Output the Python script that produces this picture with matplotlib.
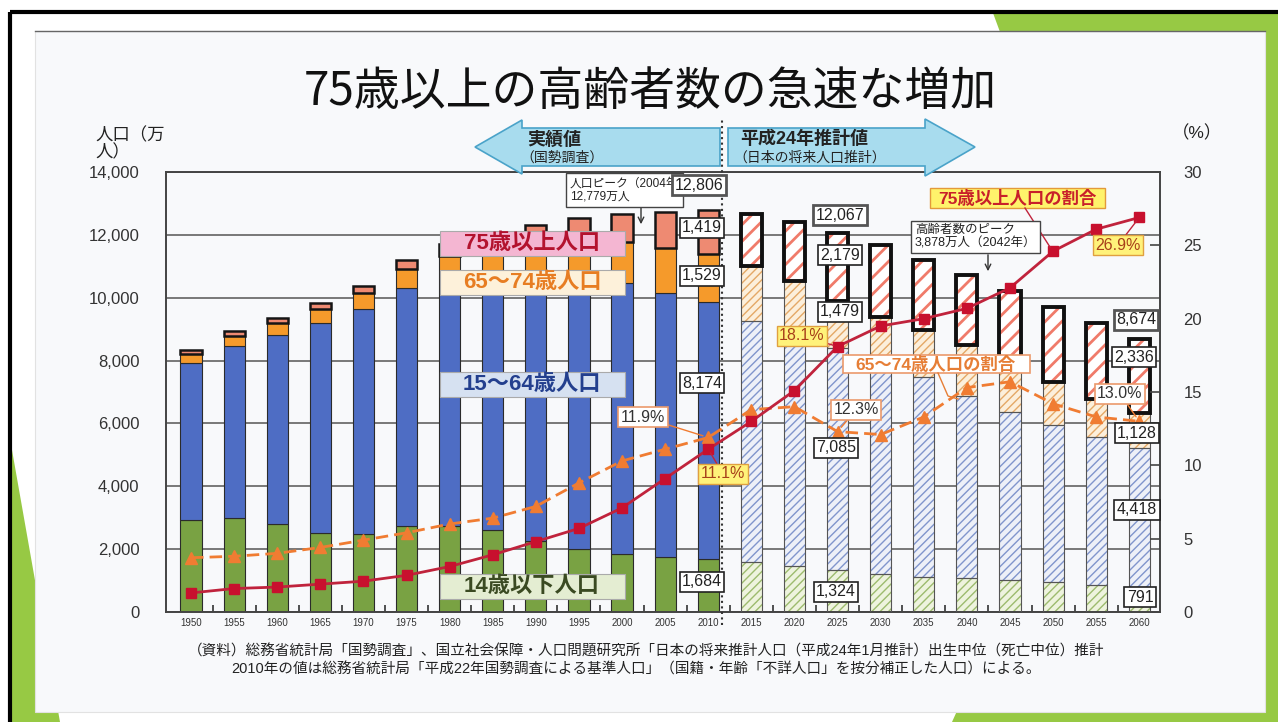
import matplotlib
matplotlib.use("Agg")
import matplotlib.pyplot as plt
import matplotlib.patches as mpatches
import numpy as np

plt.rcParams['font.family'] = ['Liberation Sans', 'Noto Sans CJK JP', 'DejaVu Sans']

# population by age group (万人)
years = [1950, 1955, 1960, 1965, 1970, 1975, 1980, 1985, 1990, 1995, 2000, 2005, 2010,
         2015, 2020, 2025, 2030, 2035, 2040, 2045, 2050, 2055, 2060]
pop_0_14 = [2943, 2980, 2807, 2517, 2482, 2722, 2751, 2603, 2249, 2001, 1847, 1752, 1684,
            1583, 1457, 1324, 1204, 1129, 1073, 1012, 939, 861, 791]
pop_15_64 = [4966, 5473, 6000, 6693, 7157, 7581, 7883, 8251, 8590, 8716, 8622, 8409, 8174,
             7682, 7341, 7085, 6773, 6343, 5787, 5353, 5001, 4706, 4418]
pop_65_74 = [309, 336, 375, 429, 509, 603, 699, 776, 892, 1109, 1301, 1407, 1529,
             1749, 1733, 1479, 1407, 1495, 1645, 1600, 1383, 1225, 1128]
pop_75 = [106, 139, 164, 189, 224, 284, 366, 471, 597, 717, 901, 1160, 1419,
          1646, 1879, 2179, 2278, 2245, 2223, 2257, 2385, 2401, 2336]
totals = [8320, 8928, 9342, 9828, 10372, 11194, 11706, 12105, 12361, 12557, 12693, 12777, 12806,
          12660, 12410, 12067, 11662, 11212, 10728, 10221, 9708, 9193, 8674]
# share of population (%)
rate_75 = [1.3, 1.6, 1.7, 1.9, 2.1, 2.5, 3.1, 3.9, 4.8, 5.7, 7.1, 9.1, 11.1,
           13.0, 15.1, 18.1, 19.5, 20.0, 20.7, 22.1, 24.6, 26.1, 26.9]
rate_65_74 = [3.7, 3.8, 4.0, 4.4, 4.9, 5.4, 6.0, 6.4, 7.2, 8.8, 10.3, 11.1, 11.9,
              13.8, 14.0, 12.3, 12.1, 13.3, 15.3, 15.7, 14.2, 13.3, 13.0]
last_actual = 2010

W, H = 1278, 722
fig = plt.figure(figsize=(W / 100, H / 100), dpi=100)
fig.patch.set_facecolor('white')

# slide background / photo of paper
bg = fig.add_axes([0, 0, 1, 1], zorder=-10)
bg.set_xlim(0, W)
bg.set_ylim(H, 0)
bg.axis('off')
green = '#97c944'
bg.add_patch(mpatches.Polygon([(12, 450), (60, 722), (12, 722)], color=green, lw=0))
bg.add_patch(mpatches.Polygon([(993, 13), (1278, 13), (1278, 32), (1000, 32)], color=green, lw=0))
bg.add_patch(mpatches.Polygon([(1264, 13), (1278, 13), (1278, 722), (1264, 722)], color=green, lw=0))
bg.add_patch(mpatches.Polygon([(957, 711), (1278, 711), (1278, 722), (952, 722)], color=green, lw=0))
bg.add_patch(mpatches.Rectangle((35, 31), 1230, 681, fc='#f8f9fb', ec='#e2e2e2', lw=0.8))
bg.plot([35, 1265], [31, 31], color='#666', lw=1)
bg.plot([10, 1278], [12, 12], color='black', lw=3, solid_capstyle='butt')
bg.plot([10, 10], [12, 722], color='black', lw=3, solid_capstyle='butt')

ax = fig.add_axes([166 / W, 1 - 612 / H, (1160 - 166) / W, (612 - 172) / H])
ax.set_facecolor('none')

x = np.arange(len(years))
n_act = years.index(last_actual) + 1
a0 = np.array(pop_0_14)
a1 = np.array(pop_15_64)
a2 = np.array(pop_65_74)
a3 = np.array(pop_75)
b1 = a0
b2 = a0 + a1
b3 = a0 + a1 + a2
bw = 0.49

xa, xp = x[:n_act], x[n_act:]
act, prj = slice(0, n_act), slice(n_act, None)

# actual values (census)
ax.bar(xa, a0[act], bw, color='#79a243', edgecolor='#2b2b2b', lw=0.8, zorder=2)
ax.bar(xa, a1[act], bw, bottom=b1[act], color='#4e6dc4', edgecolor='#2b2b2b', lw=0.8, zorder=2)
ax.bar(xa, a2[act], bw, bottom=b2[act], color='#f59a2b', edgecolor='#2b2b2b', lw=0.8, zorder=2)
ax.bar(xa, a3[act], bw, bottom=b3[act], color='#ee8a72', edgecolor='#151515', lw=1.8, zorder=2)

# projections (hatched)
with plt.rc_context({'hatch.linewidth': 1.0}):
    ax.bar(xp, a0[prj], bw, color='#eef3de', edgecolor='#9dbb6e', hatch='////', lw=0, zorder=2)
    ax.bar(xp, a1[prj], bw, bottom=b1[prj], color='#edf0f8', edgecolor='#8095cc', hatch='////', lw=0, zorder=2)
    ax.bar(xp, a2[prj], bw, bottom=b2[prj], color='#fcefdb', edgecolor='#e4a866', hatch='////', lw=0, zorder=2)
with plt.rc_context({'hatch.linewidth': 2.0}):
    ax.bar(xp, a3[prj], bw, bottom=b3[prj], color='white', edgecolor='#f07b6a', hatch='//', lw=0, zorder=2)
for seg, bot in [(a0, np.zeros_like(a0)), (a1, b1), (a2, b2)]:
    ax.bar(xp, seg[prj], bw, bottom=bot[prj], fill=False, edgecolor='#555', lw=0.8, zorder=3)
ax.bar(xp, a3[prj], bw, bottom=b3[prj], fill=False, edgecolor='#111', lw=2.8, zorder=3)

ax.set_xlim(-0.58, 22.48)
ax.set_ylim(0, 14000)
ax.set_yticks(range(0, 14001, 2000))
ax.set_yticklabels([f'{v:,}' for v in range(0, 14001, 2000)], fontsize=12, color='#333')
ax.tick_params(axis='y', length=0, pad=19)
ax.set_xticks(x)
ax.set_xticklabels([str(y) for y in years], fontsize=7, color='#333')
ax.tick_params(axis='x', length=0, pad=4)
ax.set_xticks(x[:-1] + 0.5, minor=True)
ax.tick_params(axis='x', which='minor', direction='in', length=5, width=1.2, color='#333')
ax.yaxis.grid(True, color='#555', lw=1.1)
ax.set_axisbelow(True)
for s in ax.spines.values():
    s.set_color('#444')
    s.set_linewidth(1.4)
ax.axvline(n_act - 1 + 0.32, ymin=-0.03, ymax=1.12, color='#333', ls=':', lw=1.5, clip_on=False, zorder=4)

ax2 = ax.twinx()
ax2.set_ylim(0, 30)
ax2.set_yticks(range(0, 31, 5))
ax2.set_yticklabels([str(v) for v in range(0, 31, 5)], fontsize=12, color='#333')
ax2.tick_params(axis='y', direction='in', length=7, width=1.2, color='#444', pad=17)
for s in ax2.spines.values():
    s.set_visible(False)
ax2.plot(x, rate_65_74, color='#f07c32', lw=2, ls=(0, (4.5, 2.2)), marker='^', ms=8,
         mfc='#f07c32', mec='#f07c32', zorder=5)
ax2.plot(x, rate_75, color='#c0233c', lw=2, marker='s', ms=6.5, mfc='#c8102e', mec='#c8102e', zorder=6)

# overlay in pixel coordinates for titles and annotation boxes
ov = fig.add_axes([0, 0, 1, 1], zorder=20)
ov.set_xlim(0, W)
ov.set_ylim(H, 0)
ov.axis('off')
ov.set_facecolor('none')


def to_px(axis, xv, yv):
    dx, dy = axis.transData.transform((xv, yv))
    return dx, H - dy


ov.text(650, 92, '75歳以上の高齢者数の急速な増加', ha='center', va='center', fontsize=33,
        family='Noto Sans CJK JP', color='#111')
ov.text(95, 127, '人口（万\n人）', ha='left', va='top', fontsize=12.5, linespacing=1.0, color='#222')
ov.text(1172, 133, '（%）', ha='left', va='center', fontsize=12.5, color='#222')

# period arrows
ov.add_patch(mpatches.Polygon([(475, 147), (522, 120), (522, 128), (720, 128), (720, 166),
                               (522, 166), (522, 174)], fc='#a8dcee', ec='#4aa3c9', lw=1.2))
ov.add_patch(mpatches.Polygon([(728, 128), (925, 128), (925, 119), (975, 147), (925, 176),
                               (925, 166), (728, 166)], fc='#a8dcee', ec='#4aa3c9', lw=1.2))
ov.text(527, 140, '実績値', ha='left', va='center', fontsize=13, weight='bold', color='#222')
ov.text(520, 158, '（国勢調査）', ha='left', va='center', fontsize=10, color='#222')
ov.text(740, 139, '平成24年推計値', ha='left', va='center', fontsize=13, weight='bold', color='#222')
ov.text(733, 158, '（日本の将来人口推計）', ha='left', va='center', fontsize=10, color='#222')

# peak notes
ov.annotate('', xy=(641, 227), xytext=(641, 203),
            arrowprops=dict(arrowstyle='->', color='#333', lw=1))
ov.text(570, 190, '人口ピーク（2004年\n12,779万人', ha='left', va='center', fontsize=8.5,
        linespacing=1.1, color='#222',
        bbox=dict(boxstyle='square,pad=0.35', fc='white', ec='#444', lw=1))
ov.annotate('', xy=(988, 274), xytext=(988, 252),
            arrowprops=dict(arrowstyle='->', color='#333', lw=1))
ov.text(915, 237, '高齢者数のピーク\n3,878万人（2042年）', ha='left', va='center', fontsize=9,
        linespacing=1.1, color='#222',
        bbox=dict(boxstyle='square,pad=0.3', fc='white', ec='#444', lw=1))

# age group labels
groups = [('75歳以上人口', 231, '#f4b6d2', '#b3122e'),
          ('65～74歳人口', 270, '#fdf1da', '#e77d22'),
          ('15～64歳人口', 372, '#d6e1f1', '#233f8e'),
          ('14歳以下人口', 574, '#e4edd2', '#3a4a22')]
for name, top, fc, tc in groups:
    ov.add_patch(mpatches.Rectangle((440, top), 185, 25, fc=fc, ec='#aaa', lw=0.8))
    ov.text(532, top + 12.5, name, ha='center', va='center', fontsize=16, weight='bold', color=tc)

# value labels for selected years
value_pos = {
    2010: [(699, 185), (702, 228), (702, 276), (702, 383), (702, 582)],
    2025: [(840, 215), (840, 255), (840, 312), (836, 448), (836, 592)],
    2060: [(1136, 320), (1134, 357), (1137, 433), (1137, 510), (1140, 597)],
}
for yr, pos in value_pos.items():
    i = years.index(yr)
    vals = [totals[i], pop_75[i], pop_65_74[i], pop_15_64[i], pop_0_14[i]]
    for k, (v, (px, py)) in enumerate(zip(vals, pos)):
        ec, lw = ('#555', 2.0) if k == 0 else ('#222', 1.2)
        ov.text(px, py, f'{v:,}', ha='center', va='center', fontsize=11.5, color='#222',
                bbox=dict(boxstyle='square,pad=0.15', fc='white', ec=ec, lw=lw))

# rate labels with leader lines
yellow_box = dict(boxstyle='square,pad=0.15', fc='#fff27a', ec='#e0a040', lw=1)
orange_box = dict(boxstyle='square,pad=0.15', fc='white', ec='#eb9a6c', lw=1.2)
rate_pos = {2010: ((723, 474), (643, 417)), 2025: ((802, 336), (856, 410)), 2060: ((1118, 245), (1120, 394))}
for yr, (p75, p65) in rate_pos.items():
    i = years.index(yr)
    ov.annotate(f'{rate_75[i]:.1f}%', xy=to_px(ax2, i, rate_75[i]), xytext=p75,
                ha='center', va='center', fontsize=11.5, color='#a8401a', bbox=yellow_box,
                arrowprops=dict(arrowstyle='-', color='#c0233c', lw=1, shrinkA=0, shrinkB=3))
    ov.annotate(f'{rate_65_74[i]:.1f}%', xy=to_px(ax2, i, rate_65_74[i]), xytext=p65,
                ha='center', va='center', fontsize=11.5, color='#333', bbox=orange_box,
                arrowprops=dict(arrowstyle='-', color='#f07c32', lw=1, shrinkA=0, shrinkB=4))

# series labels
i50 = years.index(2050)
ov.add_patch(mpatches.Rectangle((930, 188), 175, 20, fc='#fff36b', ec='#e39a3a', lw=1))
ov.text(1017, 198, '75歳以上人口の割合', ha='center', va='center', fontsize=12.5, weight='bold', color='#c8202a')
px50, py50 = to_px(ax2, i50, rate_75[i50])
ov.plot([1025, px50 - 3], [208, py50 - 4], color='#c0233c', lw=1)
ov.add_patch(mpatches.Rectangle((843, 355), 187, 18, fc='white', ec='#eb9a6c', lw=1.2))
ov.text(936, 364, '65～74歳人口の割合', ha='center', va='center', fontsize=12.5, weight='bold', color='#e67e36')
ov.plot([938, 948, 958], [373, 396, 399], color='#e67e36', lw=1)

# source notes
ov.text(646, 652, '（資料）総務省統計局「国勢調査」、国立社会保障・人口問題研究所「日本の将来推計人口（平成24年1月推計）出生中位（死亡中位）推計',
        ha='center', va='center', fontsize=10.5, color='#222')
ov.text(636, 670, '2010年の値は総務省統計局「平成22年国勢調査による基準人口」（国籍・年齢「不詳人口」を按分補正した人口）による。',
        ha='center', va='center', fontsize=10.5, color='#222')

fig.savefig('out.png', dpi=100)
